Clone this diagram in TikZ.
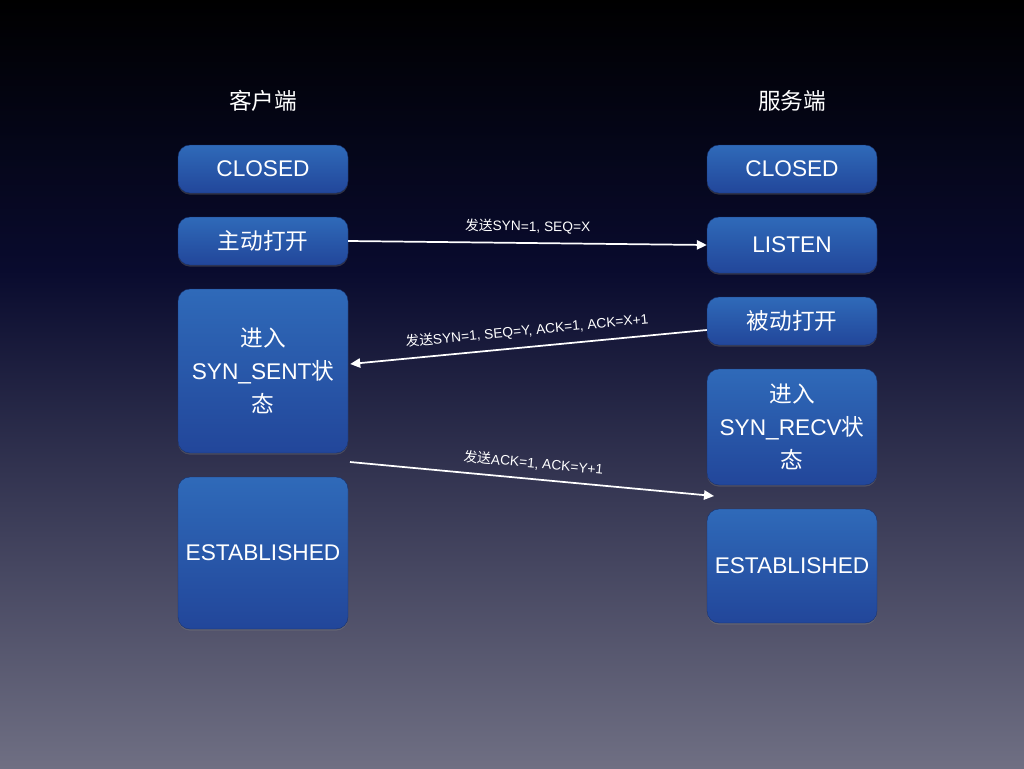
\documentclass[tikz,border=0pt]{standalone}
\usepackage{fontspec}
\setmainfont{Liberation Sans}
\newfontfamily\cjk{Noto Sans CJK SC}
\usetikzlibrary{arrows.meta,shadows}

\definecolor{bgtop}{HTML}{000000}
\definecolor{bgmid}{HTML}{090B2E}
\definecolor{bgbot}{HTML}{6F6F83}
\definecolor{boxtop}{HTML}{2F6AB9}
\definecolor{boxbot}{HTML}{22469A}

\tikzset{
  state/.style={rounded corners=9pt, minimum width=127.5pt, text=white,
    top color=boxtop, bottom color=boxbot, draw=boxbot!70!black, line width=.3pt,
    drop shadow={opacity=.35, shadow xshift=0pt, shadow yshift=-1.2pt},
    align=center, font=\fontsize{17}{25}\selectfont},
  side/.style={text=white, font=\cjk\fontsize{17}{20}\selectfont},
  msg/.style={draw=white, line width=1.3pt, -{Triangle[length=7.5pt,width=7pt]}},
  lbl/.style={text=white, sloped, above=3pt, font=\fontsize{10.3}{12}\selectfont}
}

\begin{document}
\begin{tikzpicture}[x=0.75pt,y=-0.75pt]
\useasboundingbox (0,0) rectangle (1024,768);
\fill[top color=bgtop, bottom color=bgmid] (0,0) rectangle (1024,270);
\fill[top color=bgmid, bottom color=bgbot] (0,270) rectangle (1024,768);

% client
\node[side] (client) at (263,101) {客户端};
\node[state, minimum height=36pt] (cclosed) at (263,169) {CLOSED};
\node[state, minimum height=36pt] (copen) at (263,241) {\cjk 主动打开};
\node[state, minimum height=123pt] (csent) at (263,371) {{\cjk 进入}\\SYN\_SENT{\cjk 状}\\{\cjk 态}};
\node[state, minimum height=114pt] (cest) at (263,553) {ESTABLISHED};

% server
\node[side] (server) at (792,101) {服务端};
\node[state, minimum height=36pt] (sclosed) at (792,169) {CLOSED};
\node[state, minimum height=42pt] (slisten) at (792,245) {LISTEN};
\node[state, minimum height=36pt] (sopen) at (792,321) {\cjk 被动打开};
\node[state, minimum height=87pt] (srecv) at (792,427) {{\cjk 进入}\\SYN\_RECV{\cjk 状}\\{\cjk 态}};
\node[state, minimum height=85.5pt] (sest) at (792,566) {ESTABLISHED};

\coordinate (ackfrom) at (350,462);
\coordinate (ackto) at (714,496);

\draw[msg] (copen.east) -- node[lbl] {{\cjk 发送}SYN=1, SEQ=X} (slisten.west);
\draw[msg, {Triangle[length=7.5pt,width=7pt]}-] ([xshift=1.5pt,yshift=5.25pt]csent.east)
  -- node[lbl] {{\cjk 发送}SYN=1, SEQ=Y, ACK=1, ACK=X+1} ([yshift=-6.75pt]sopen.west);
\draw[msg] (ackfrom) -- node[lbl] {{\cjk 发送}ACK=1, ACK=Y+1} (ackto);
\end{tikzpicture}
\end{document}
